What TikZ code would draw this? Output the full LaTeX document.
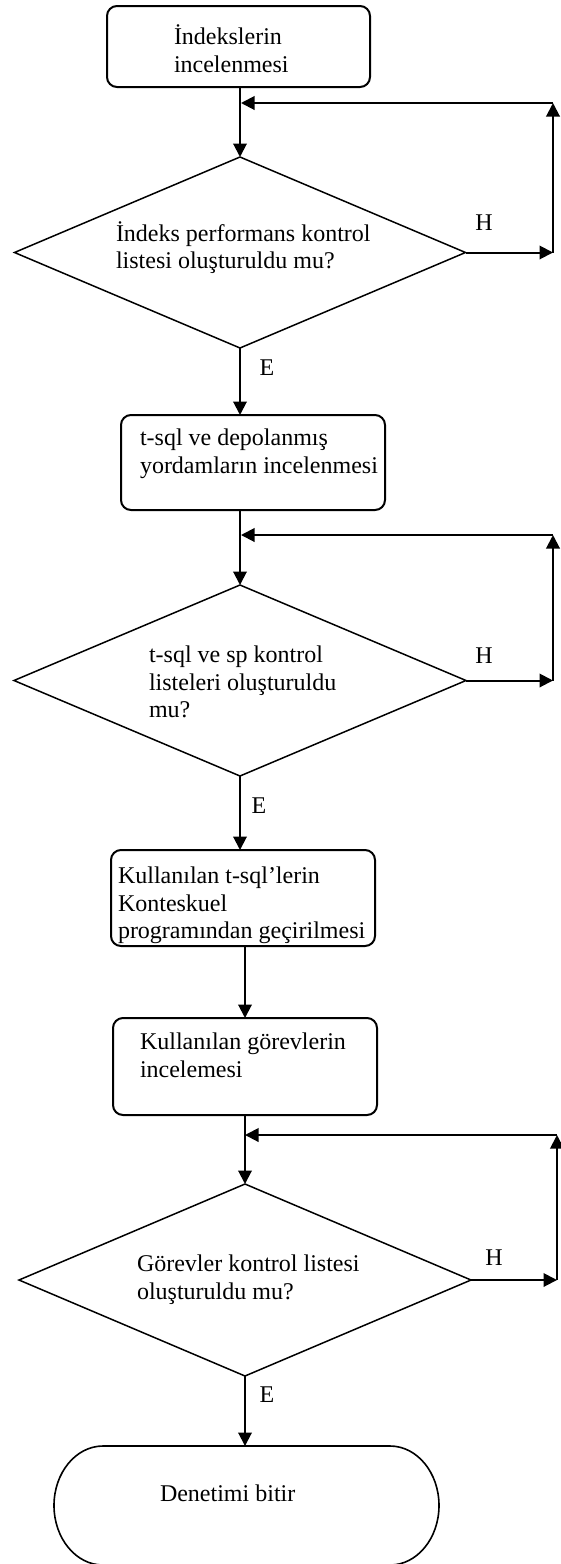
\documentclass[tikz,border=0pt]{standalone}
\usepackage{fontspec}
\setmainfont{Liberation Serif}
\usetikzlibrary{arrows.meta,shapes.geometric}
\begin{document}
\begin{tikzpicture}[x=1pt,y=-1pt,
  every node/.style={font=\fontsize{24}{27.6}\selectfont, inner sep=0pt, outer sep=0pt},
  procbox/.style={draw, rectangle, rounded corners=10pt, line width=2pt},
  decision/.style={draw, diamond, line width=1.5pt},
  txt/.style={anchor=west, align=left},
  conn/.style={line width=2pt, -{Triangle[length=13.5pt,width=13.5pt]}}
]
\useasboundingbox (0,0) rectangle (560,1564);

% shapes
\node[procbox, minimum width=263pt, minimum height=81pt] (box1) at (238.5,46.5) {};
\node[decision, minimum width=451pt, minimum height=191pt] (d1) at (240,252.5) {};
\node[procbox, minimum width=264pt, minimum height=95pt] (box2) at (253,462.5) {};
\node[decision, minimum width=452pt, minimum height=191pt] (d2) at (240,680.5) {};
\node[procbox, minimum width=264pt, minimum height=96pt] (box3) at (243,898) {};
\node[procbox, minimum width=264pt, minimum height=97pt] (box4) at (245,1066.5) {};
\node[decision, minimum width=452pt, minimum height=192pt] (d3) at (245,1280) {};
\node[rectangle, minimum width=385pt, minimum height=119pt] (term) at (246.5,1505.5) {};
\draw[line width=1.6pt] ([xshift=49pt]term.north west) -- ([xshift=-49pt]term.north east)
  arc[start angle=90, end angle=-90, x radius=49pt, y radius=59.5pt]
  -- ([xshift=49pt]term.south west)
  arc[start angle=270, end angle=90, x radius=49pt, y radius=59.5pt] -- cycle;

% texts
\node[txt] (t1) at (174,48.5) {İndekslerin\\incelenmesi};
\node[txt] (t2) at (116,247.5) {İndeks performans kontrol\\listesi oluşturuldu mu?};
\node[txt] (t3) at (140,454) {t-sql ve depolanmış\\yordamların incelenmesi};
\node[txt] (t4) at (149,682) {t-sql ve sp kontrol\\listeleri oluşturuldu\\mu?};
\node[txt] (t5) at (118,905.5) {Kullanılan t-sql’lerin\\Konteskuel\\programından geçirilmesi};
\node[txt] (t6) at (140,1055) {Kullanılan görevlerin\\incelemesi};
\node[txt] (t7) at (137,1280) {Görevler kontrol listesi\\oluşturuldu mu?};
\node[txt] (t8) at (160,1493) {Denetimi bitir};

% labels
\node (h1) at (484,223) {H};
\node (h2) at (484,656) {H};
\node (h3) at (494,1258) {H};
\node (e1) at (267,368) {E};
\node (e2) at (259,806) {E};
\node (e3) at (267,1395) {E};

% loop coordinates
\coordinate (j1) at (241,103);
\coordinate (r1t) at (553,103);
\coordinate (r1b) at (553,252.5);
\coordinate (j2) at (241,535);
\coordinate (r2t) at (553,535);
\coordinate (r2b) at (553,680.5);
\coordinate (j3) at (245,1135);
\coordinate (r3t) at (557,1135);
\coordinate (r3b) at (557,1280);

% connectors
\draw[conn] (d1.north |- box1.south) -- (d1.north);
\draw[conn] (d1.east) -- (r1b);
\draw[conn] (r1b) -- (r1t);
\draw[conn] (r1t) -- (j1);
\draw[conn] (d1.south) -- (d1.south |- box2.north);

\draw[conn] (d2.north |- box2.south) -- (d2.north);
\draw[conn] (d2.east) -- (r2b);
\draw[conn] (r2b) -- (r2t);
\draw[conn] (r2t) -- (j2);
\draw[conn] (d2.south) -- (d2.south |- box3.north);

\draw[conn] (box4.north |- box3.south) -- (box4.north);

\draw[conn] (box4.south) -- (d3.north);
\draw[conn] (d3.east) -- (r3b);
\draw[conn] (r3b) -- (r3t);
\draw[conn] (r3t) -- (j3);
\draw[conn] (d3.south) -- (d3.south |- term.north);
\end{tikzpicture}
\end{document}
